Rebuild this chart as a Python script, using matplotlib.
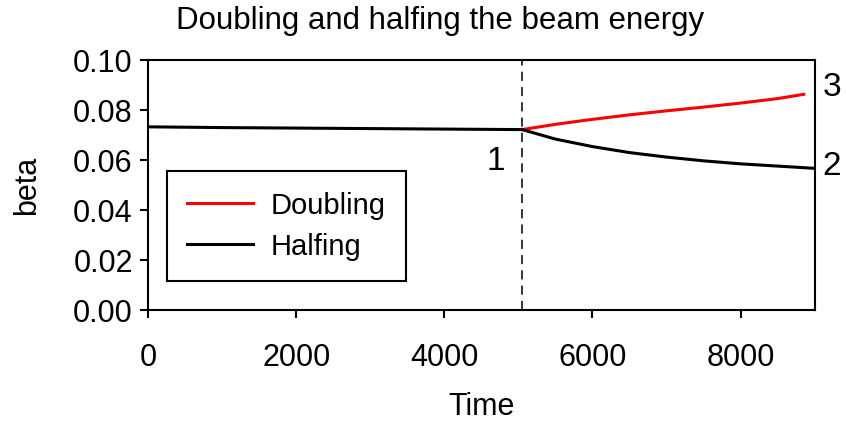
import matplotlib.pyplot as plt

plt.rcParams['font.family'] = ['Liberation Sans', 'DejaVu Sans']

# beta vs time before and after the energy change at t = 5050
time_before = [0, 1000, 2000, 3000, 4000, 5050]
beta_before = [0.0733, 0.0730, 0.0728, 0.0726, 0.0724, 0.0722]

time_double = [5050, 5500, 6000, 6500, 7000, 7500, 8000, 8500, 8850]
beta_double = [0.0722, 0.0743, 0.0763, 0.0781, 0.0797, 0.0812, 0.0828, 0.0846, 0.0863]

time_half = [5050, 5500, 6000, 6500, 7000, 7500, 8000, 8500, 9000]
beta_half = [0.0722, 0.0684, 0.0654, 0.0630, 0.0612, 0.0597, 0.0585, 0.0576, 0.0567]

t_switch = 5050

fig = plt.figure(figsize=(8.46, 4.26), dpi=100)
ax = fig.add_axes([0.175, 0.272, 0.788, 0.587])

ax.plot(time_before, beta_before, color='black', lw=2.2)
ax.plot(time_double, beta_double, color='red', lw=2.2, label='Doubling')
ax.plot(time_half, beta_half, color='black', lw=2.2, label='Halfing')
ax.axvline(t_switch, color='black', ls=(0, (6, 4)), lw=1.1)

ax.set_xlim(0, 9000)
ax.set_ylim(0, 0.10)
ax.set_xticks([0, 2000, 4000, 6000, 8000])
ax.set_yticks([0, 0.02, 0.04, 0.06, 0.08, 0.10])
ax.set_yticklabels(['0.00', '0.02', '0.04', '0.06', '0.08', '0.10'])
ax.tick_params(direction='out', length=6, width=1.5, labelsize=22, pad=5)
ax.tick_params(axis='x', pad=18)
for s in ax.spines.values():
    s.set_linewidth(1.5)

ax.set_xlabel('Time', fontsize=22, labelpad=13)
ax.set_ylabel('beta', fontsize=22, labelpad=22)
fig.text(440 / 846, 1 - 21 / 426, 'Doubling and halfing the beam energy',
         fontsize=22.5, ha='center', va='center')

ax.text(4700, 0.0595, '1', fontsize=24, ha='center', va='center')
ax.text(9230, 0.0575, '2', fontsize=24, ha='center', va='center', clip_on=False)
ax.text(9230, 0.089, '3', fontsize=24, ha='center', va='center', clip_on=False)

leg = ax.legend(loc='upper left', bbox_to_anchor=(0.0285, 0.556), borderaxespad=0,
                fontsize=21, frameon=True, fancybox=False, edgecolor='black',
                framealpha=1, handlelength=2.25, handletextpad=0.6,
                borderpad=0.7, labelspacing=0.45)
leg.get_frame().set_linewidth(1.5)

fig.savefig('out.png', dpi=100)
